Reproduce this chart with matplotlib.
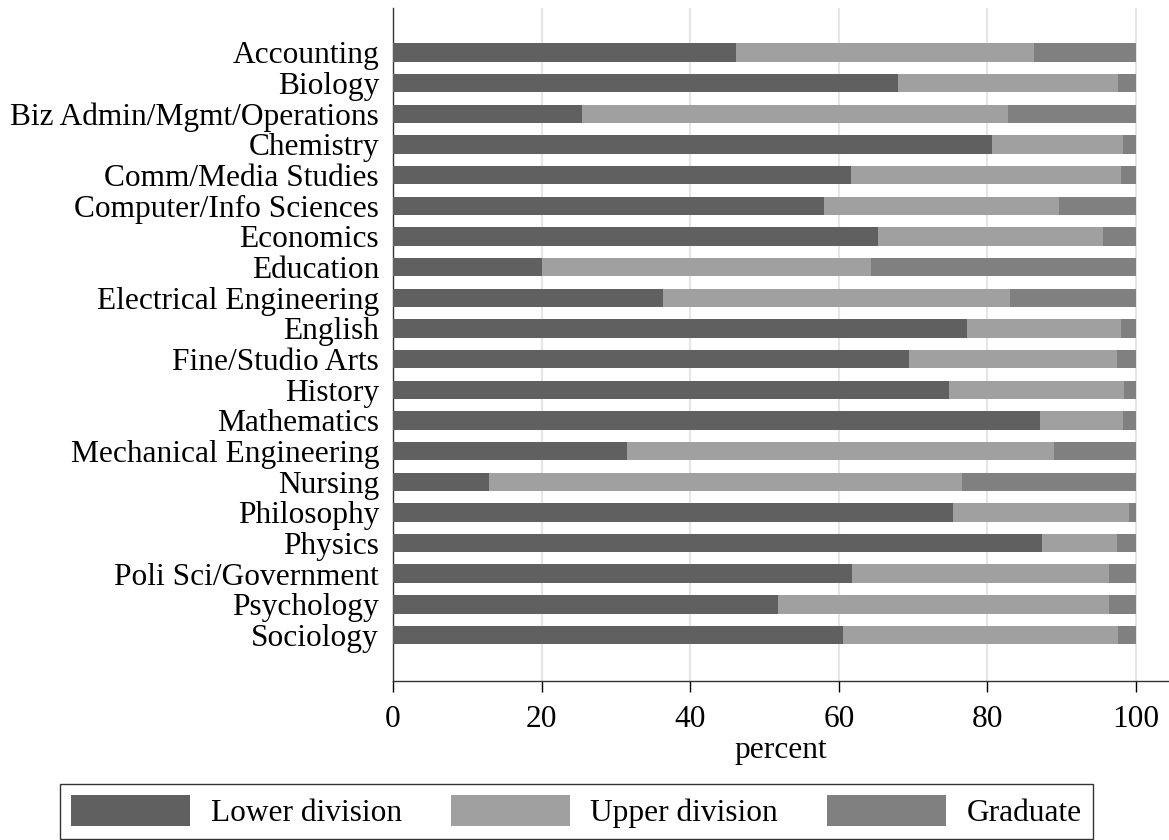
import numpy as np
import matplotlib.pyplot as plt
from matplotlib.patches import Patch

# -----------------------------
# Data (percent of each level)
# -----------------------------
majors = ["Accounting", "Biology", "Biz Admin/Mgmt/Operations", "Chemistry",
          "Comm/Media Studies", "Computer/Info Sciences", "Economics",
          "Education", "Electrical Engineering", "English", "Fine/Studio Arts",
          "History", "Mathematics", "Mechanical Engineering", "Nursing",
          "Philosophy", "Physics", "Poli Sci/Government", "Psychology",
          "Sociology"]

lower = [46.2, 68.0, 25.5, 80.6, 61.7, 58.0, 65.3, 20.1, 36.4, 77.3,
         69.5, 74.8, 87.1, 31.5, 12.9, 75.3, 87.3, 61.8, 51.8, 60.5]
upper = [40.1, 29.6, 57.3, 17.6, 36.3, 31.6, 30.3, 44.2, 46.7, 20.7,
         28.0, 23.6, 11.1, 57.4, 63.7, 23.7, 10.2, 34.5, 44.5, 37.1]
graduate = [13.7, 2.4, 17.2, 1.8, 2.0, 10.4, 4.4, 35.7, 16.9, 2.0,
            2.5, 1.6, 1.8, 11.1, 23.4, 1.0, 2.5, 3.7, 3.7, 2.4]

series_names = ["Lower division", "Upper division", "Graduate"]
colors = ["#606060", "#a0a0a0", "#808080"]

# -----------------------------
# Style
# -----------------------------
plt.rcParams["font.family"] = ["Liberation Serif", "DejaVu Serif"]
fs = 22.6

fig = plt.figure(figsize=(11.69, 8.4), dpi=100)
ax = fig.add_axes([393 / 1169, 1 - 681 / 840, 775 / 1169, 673 / 840])

y = np.arange(len(majors))
lower = np.array(lower)
upper = np.array(upper)
graduate = np.array(graduate)

ax.barh(y, lower, height=0.6, color=colors[0], zorder=3)
ax.barh(y, upper, left=lower, height=0.6, color=colors[1], zorder=3)
ax.barh(y, graduate, left=lower + upper, height=0.6, color=colors[2], zorder=3)

ax.set_yticks(y)
ax.set_yticklabels(majors, fontsize=fs)
ax.set_ylim(len(majors) - 1 + 1.5, -1.45)
ax.set_xlim(0, 104.3)
ax.set_xticks([0, 20, 40, 60, 80, 100])
ax.tick_params(axis="x", labelsize=fs, length=8, width=1, pad=9, direction="out")
ax.tick_params(axis="y", length=0, pad=10)
ax.set_xlabel("percent", fontsize=fs, labelpad=2)

ax.grid(axis="x", color="#e6e6e6", linewidth=1.5, zorder=0)
ax.spines["top"].set_visible(False)
ax.spines["right"].set_visible(False)
for s in ["left", "bottom"]:
    ax.spines[s].set_color("#333333")
    ax.spines[s].set_linewidth(1.0)

# -----------------------------
# Legend below the plot
# -----------------------------
handles = [Patch(facecolor=c, edgecolor="none") for c in colors]
leg = fig.legend(handles, series_names, loc="lower left", ncol=3,
                 bbox_to_anchor=(60 / 1169, 1 / 840, 1033 / 1169, 56 / 840),
                 mode="expand", borderaxespad=0, fontsize=fs,
                 handlelength=3.8, handleheight=1.15, handletextpad=0.65,
                 borderpad=0.35, fancybox=False, frameon=True)
leg.get_frame().set_edgecolor("black")
leg.get_frame().set_linewidth(1.0)

fig.savefig("out.png", dpi=100)
